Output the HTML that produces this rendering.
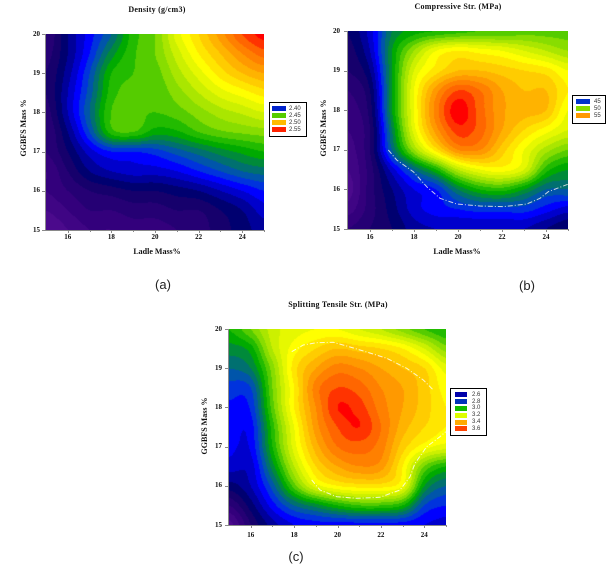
<!DOCTYPE html>
<html>
<head>
<meta charset="utf-8">
<style>
  html,body{margin:0;padding:0;background:#fff;}
  body{width:611px;height:570px;position:relative;overflow:hidden;}
  .abs{position:absolute;}
  canvas{position:absolute;display:block;}
  .serif{font-family:"Liberation Serif",serif;font-weight:bold;color:#111;line-height:1;white-space:nowrap;}
  .t{font-size:8px;letter-spacing:0.25px;}
  .tick{font-size:7px;}
  .lbl{font-size:8px;}
  .cap{font-family:"Liberation Sans",sans-serif;font-size:13px;color:#222;line-height:1;white-space:nowrap;}
  .leg{position:absolute;border:1px solid #000;background:#fff;box-sizing:border-box;}
  .sw{position:absolute;}
  .lt{position:absolute;font-family:"Liberation Sans",sans-serif;font-size:6px;color:#333;line-height:1;white-space:nowrap;}
  .ax{position:absolute;background:#8a8a8a;}
</style>
</head>
<body>

<canvas id="ca" width="218" height="196" style="left:46px;top:34px;"></canvas>
<canvas id="cb" width="220" height="198" style="left:348px;top:31px;"></canvas>
<canvas id="cc" width="217" height="196" style="left:229px;top:329px;"></canvas>

<svg class="abs" style="left:0;top:0" width="611" height="570">
  <polyline fill="none" stroke="rgba(235,235,235,0.85)" stroke-width="1" stroke-dasharray="5 2 1 2"
    points="388.3,150 396.7,160 413.3,171.7 426.7,186.7 440,198.3 456.7,204 480,206 503.3,206.7 526.7,204 540,198.3 548.3,191.7 567.7,184.3"/>
  <polyline fill="none" stroke="rgba(255,255,255,0.8)" stroke-width="1" stroke-dasharray="5 2 1 2"
    points="291.7,351.7 303.3,345 316.7,342.7 333.3,342.3 346.7,346 366.7,352 386.7,358.3 406.7,368.3 423.3,380 433.3,390"/>
  <polyline fill="none" stroke="rgba(255,255,255,0.8)" stroke-width="1" stroke-dasharray="5 2 1 2"
    points="311.7,480 320,490 336.7,496.7 356.7,498.3 380,497.3 400,490 410,476.7 415,463.3 426.7,446.7 440,436.7 445.7,431.7"/>
</svg>

<div class="ax" style="left:45px;top:34px;width:1px;height:197px;"></div>
<div class="ax" style="left:45px;top:230px;width:219px;height:1px;"></div>
<div class="ax" style="left:347px;top:31px;width:1px;height:199px;"></div>
<div class="ax" style="left:347px;top:229px;width:221px;height:1px;"></div>
<div class="ax" style="left:228px;top:329px;width:1px;height:197px;"></div>
<div class="ax" style="left:228px;top:525px;width:218px;height:1px;"></div>

<div id="ticks"></div>

<div class="abs serif t" style="left:57px;width:200px;text-align:center;top:6px;">Density (g/cm3)</div>
<div class="abs serif t" style="left:358px;width:200px;text-align:center;top:3px;">Compressive Str. (MPa)</div>
<div class="abs serif t" style="left:238px;width:200px;text-align:center;top:301px;">Splitting Tensile Str. (MPa)</div>

<div class="abs serif lbl" style="left:107px;width:100px;text-align:center;top:248px;">Ladle Mass%</div>
<div class="abs serif lbl" style="left:407px;width:100px;text-align:center;top:248px;">Ladle Mass%</div>

<div class="abs serif lbl" style="left:23.5px;top:128px;transform:translate(-50%,-50%) rotate(-90deg);">GGBFS Mass %</div>
<div class="abs serif lbl" style="left:323.5px;top:128px;transform:translate(-50%,-50%) rotate(-90deg);">GGBFS Mass %</div>
<div class="abs serif lbl" style="left:205px;top:426px;transform:translate(-50%,-50%) rotate(-90deg);">GGBFS Mass %</div>

<div class="abs cap" style="left:133px;width:60px;text-align:center;top:278px;">(a)</div>
<div class="abs cap" style="left:497px;width:60px;text-align:center;top:279px;">(b)</div>
<div class="abs cap" style="left:266px;width:60px;text-align:center;top:550px;">(c)</div>

<div class="leg" style="left:269px;top:102px;width:38px;height:35px;"></div>
<div class="sw" style="left:272px;top:106px;width:14px;height:5px;background:#0022cc;"></div>
<div class="sw" style="left:272px;top:113px;width:14px;height:5px;background:#55cc00;"></div>
<div class="sw" style="left:272px;top:120px;width:14px;height:5px;background:#ffbb00;"></div>
<div class="sw" style="left:272px;top:127px;width:14px;height:5px;background:#ff2200;"></div>
<div class="lt" style="left:289px;top:105.5px;">2.40</div>
<div class="lt" style="left:289px;top:112.5px;">2.45</div>
<div class="lt" style="left:289px;top:119.5px;">2.50</div>
<div class="lt" style="left:289px;top:126.5px;">2.55</div>

<div class="leg" style="left:572px;top:95px;width:34px;height:29px;"></div>
<div class="sw" style="left:576px;top:99px;width:14px;height:5px;background:#0033cc;"></div>
<div class="sw" style="left:576px;top:106px;width:14px;height:5px;background:#88dd00;"></div>
<div class="sw" style="left:576px;top:113px;width:14px;height:5px;background:#ff9900;"></div>
<div class="lt" style="left:594px;top:98.5px;">45</div>
<div class="lt" style="left:594px;top:105.5px;">50</div>
<div class="lt" style="left:594px;top:112.5px;">55</div>

<div class="leg" style="left:450px;top:388px;width:37px;height:48px;"></div>
<div class="sw" style="left:455px;top:392px;width:12px;height:5px;background:#0000aa;"></div>
<div class="sw" style="left:455px;top:399px;width:12px;height:5px;background:#0033bb;"></div>
<div class="sw" style="left:455px;top:405.5px;width:12px;height:5px;background:#11bb00;"></div>
<div class="sw" style="left:455px;top:412.5px;width:12px;height:5px;background:#ddff00;"></div>
<div class="sw" style="left:455px;top:419.5px;width:12px;height:5px;background:#ffaa00;"></div>
<div class="sw" style="left:455px;top:426px;width:12px;height:5px;background:#ff4400;"></div>
<div class="lt" style="left:472px;top:391.5px;">2.6</div>
<div class="lt" style="left:472px;top:398.5px;">2.8</div>
<div class="lt" style="left:472px;top:405px;">3.0</div>
<div class="lt" style="left:472px;top:412px;">3.2</div>
<div class="lt" style="left:472px;top:419px;">3.4</div>
<div class="lt" style="left:472px;top:425.5px;">3.6</div>

<script>
(function(){
  var cmap=[[75,10,140],[63,5,132],[51,0,124],[37,0,116],[22,0,108],[0,0,112],[0,0,154],[0,0,204],[0,0,255],[0,51,221],[0,85,170],[0,112,112],[0,138,58],[0,170,0],[34,187,0],[85,204,0],[136,221,0],[170,230,0],[204,240,0],[230,248,0],[255,255,0],[255,230,0],[255,204,0],[255,179,0],[255,153,0],[255,128,0],[255,102,0],[255,51,0],[255,0,0]];

  var GA=[
   [3,6,8.5,11,14.5,16,19.5,22,24.5,27,28.5],
   [3.5,6,9,12.5,14.8,16,18.5,21,23,25,26.5],
   [4,6.5,10,14,15,15.5,17.5,19.5,21.5,23,24],
   [4,7,10.5,14.5,15.3,15.2,16.5,18,19.5,20.5,21.5],
   [3.5,7,11,15,15.3,15,15.5,16.5,17.5,18.2,19],
   [3,6,10,14.5,15,13.5,13.8,15,15.8,16.2,16.5],
   [3,5,7.5,9,9,9.5,10.5,11.5,12.5,13.3,14],
   [2,4,6,7,7.5,7.5,8,9,10,11,11.5],
   [2,3,4,4.5,5,5,5.5,6,7,8,9],
   [1,2,3,3,3.5,3.5,4,4,5,6,7.5],
   [0,1,2,2,2.5,2.5,3,3.5,4.5,5.5,6.5]
  ];
  var GB=[
   [5,7.5,12,13.5,14,14.5,15,15,15.5,15.5,15.5],
   [4.5,7,13,17,20,21,20.5,20,19,18,17],
   [4,6,13,19,21.5,23,23,22.5,22,21.5,20],
   [3,5,13,20,24.5,27,26,24,23,23,21],
   [2.5,4.5,13,20,25.5,28.6,26.5,24.2,23.5,23,20],
   [2,4,12,19.5,24.5,27.5,26.5,24,22,20.5,19],
   [1.5,4,11,17,21.5,25,25,22.5,20,17.5,16],
   [1,3.5,7.5,11,14,18,20,20.5,19,14.5,13],
   [0.5,3.5,6,8,9,12,14,14.5,13,11,11],
   [1.5,3.5,5.5,7.5,8.5,9,9.5,9.5,9.5,8.5,7.5],
   [3,4,5,6.5,7,7,7,7,7,6,5]
  ];
  var GC=[
   [14,16,18.5,19.5,20,20,19,18,16.5,15,14],
   [12.5,13.5,18,20.5,22,23,22.5,22,21,19,16.5],
   [11,12,16.5,21.5,24,25.5,25,24,23,22,19.5],
   [9.5,10,16,21,25.5,27,26.5,25,24,22.5,20.5],
   [8.8,9.2,15.5,21,25,28,27.5,25.5,24,22.5,21],
   [8.5,8.5,14.5,20,24.5,27,28,26,23.5,22,21],
   [8.3,8.2,14,19.5,23.5,26,26.5,25.5,22.5,20.5,19.5],
   [7.5,7.5,12.5,18,22,24,25,24.5,21,16,14],
   [5.5,7,10.5,15.5,19.5,21,21.5,21.5,20,13,11],
   [3,5.5,8.5,11,12.5,14,15,15,14,10,9],
   [0.5,4,6.5,8,8.5,8.5,8.5,8.5,8.5,8,7.5]
  ];

  function cub(p0,p1,p2,p3,t){
    return p1+0.5*t*(p2-p0+t*(2*p0-5*p1+4*p2-p3+t*(3*(p1-p2)+p3-p0)));
  }
  function sample(g,u,v){
    var nr=g.length,nc=g[0].length;
    var i=Math.floor(v),j=Math.floor(u);
    if(i>nr-2)i=nr-2; if(j>nc-2)j=nc-2;
    var fy=v-i,fx=u-j;
    function G(r,c){r=r<0?0:(r>nr-1?nr-1:r);c=c<0?0:(c>nc-1?nc-1:c);return g[r][c];}
    var r=[];
    for(var k=-1;k<=2;k++){r.push(cub(G(i+k,j-1),G(i+k,j),G(i+k,j+1),G(i+k,j+2),fx));}
    return cub(r[0],r[1],r[2],r[3],fy);
  }
  function draw(id,g){
    var cv=document.getElementById(id),ctx=cv.getContext('2d');
    var W=cv.width,H=cv.height,img=ctx.createImageData(W,H),d=img.data;
    var nr=g.length,nc=g[0].length;
    for(var y=0;y<H;y++){
      for(var x=0;x<W;x++){
        var u=(x+0.5)/W*(nc-1),v=(y+0.5)/H*(nr-1);
        var val=sample(g,u,v);
        var idx=Math.floor(val); if(idx<0)idx=0; if(idx>28)idx=28;
        var c=cmap[idx],p=(y*W+x)*4;
        d[p]=c[0];d[p+1]=c[1];d[p+2]=c[2];d[p+3]=255;
      }
    }
    ctx.putImageData(img,0,0);
  }
  draw('ca',GA);draw('cb',GB);draw('cc',GC);

  var host=document.getElementById('ticks'),html='';
  function lab(x,y,t,align){
    if(align==='r'){html+='<div class="abs serif tick" style="left:'+(x-30)+'px;width:30px;text-align:right;top:'+(y-3.5)+'px;">'+t+'</div>';}
    else{html+='<div class="abs serif tick" style="left:'+(x-15)+'px;width:30px;text-align:center;top:'+(y-3.5)+'px;">'+t+'</div>';}
  }
  function tk(x,y,w,h){html+='<div class="ax" style="left:'+x+'px;top:'+y+'px;width:'+w+'px;height:'+h+'px;"></div>';}
  var P=[
    {L:46,T:34,W:218,H:196,yr:40,xy:237,left:45},
    {L:348,T:31,W:220,H:198,yr:340,xy:237.5,left:347},
    {L:229,T:329,W:217,H:196,yr:222,xy:535,left:228}
  ];
  P.forEach(function(p){
    for(var k=0;k<=5;k++){
      var yy=p.T+k*p.H/5;
      lab(p.yr,yy,String(20-k),'r');
      tk(p.left-3,Math.round(yy),3,1);
    }
    for(var v=16;v<=24;v+=2){
      var xx=p.L+(v-15)*p.W/10;
      lab(xx,p.xy,String(v),'c');
      tk(Math.round(xx),p.T+p.H,1,3);
    }
    for(var v2=17;v2<=25;v2+=2){
      var x2=p.L+(v2-15)*p.W/10;
      tk(Math.round(x2),p.T+p.H,1,2);
    }
  });
  host.innerHTML=html;
})();
</script>
</body>
</html>
